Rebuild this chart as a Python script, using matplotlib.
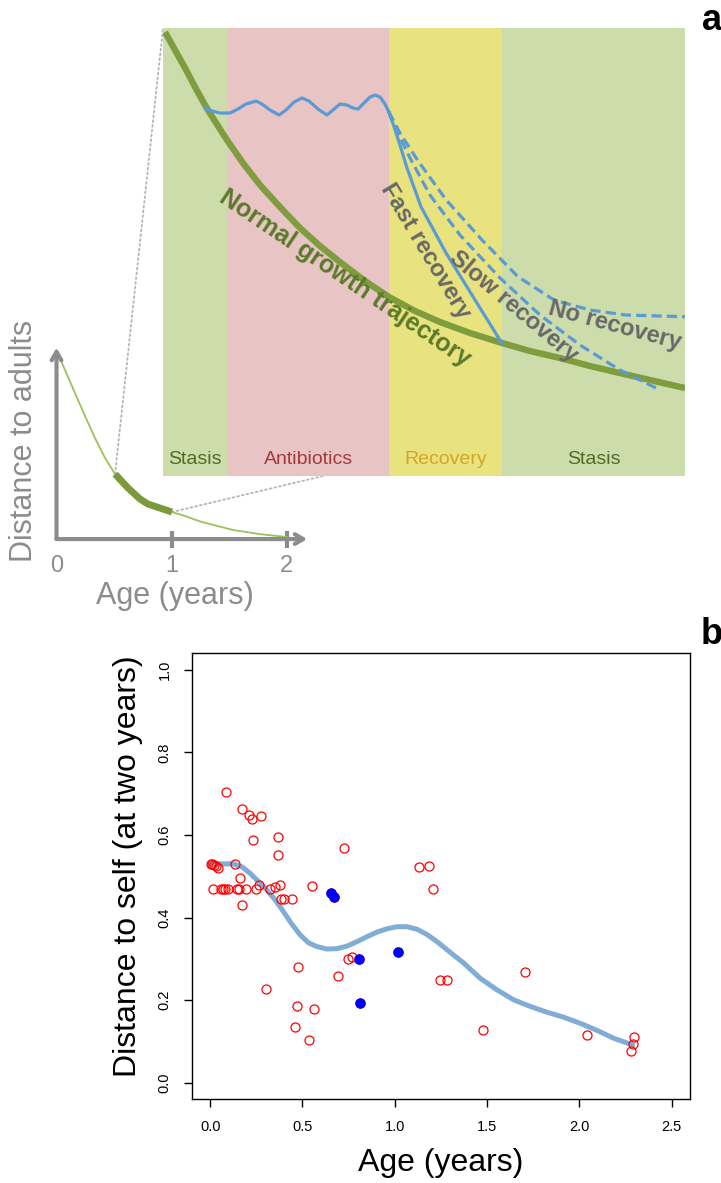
import matplotlib.pyplot as plt
from matplotlib.patches import ConnectionPatch

plt.rcParams['font.family'] = ['Liberation Sans', 'DejaVu Sans']

# ---------------- panel a : overview curve (age in years, distance to adults)
overview_age = [0.0, 0.074, 0.161, 0.248, 0.335, 0.422, 0.509, 0.622, 0.726, 0.796, 0.9, 1.004,
                1.117, 1.248, 1.535, 1.77, 2.0]
overview_dist = [1.0, 0.894, 0.772, 0.651, 0.534, 0.429, 0.344, 0.270, 0.212, 0.185, 0.164, 0.143,
                 0.122, 0.093, 0.048, 0.026, 0.011]
zoom_from, zoom_to = 6, 12          # piece of the curve blown up in the inset
overview_ticks = [0, 1, 2]

# ---------------- panel a : inset schematic (x = age, y = distance)
phase_names = ['Stasis', 'Antibiotics', 'Recovery', 'Stasis']
phase_start = [0.5, 0.5613, 0.7165, 0.8247]
phase_end = [0.5613, 0.7165, 0.8247, 1.0]
phase_fill = ['#cddcab', '#e9c4c4', '#e8e37e', '#cddcab']
phase_text = ['#4f6b28', '#a53a3c', '#d6a526', '#4f6b28']

normal_x = [0.5019, 0.5115, 0.5211, 0.5307, 0.5402, 0.5508, 0.5613, 0.5766, 0.5929, 0.6121, 0.6312,
            0.6504, 0.6695, 0.6935, 0.7165, 0.7414, 0.7653, 0.7941, 0.8247, 0.8515, 0.8803, 0.9090,
            0.9377, 0.9665, 1.0]
normal_y = [0.9911, 0.9509, 0.9107, 0.8683, 0.8281, 0.7879, 0.7500, 0.6987, 0.6496, 0.6004, 0.5536,
            0.5134, 0.4777, 0.4353, 0.3996, 0.3683, 0.3438, 0.3192, 0.2969, 0.2790, 0.2634, 0.2455,
            0.2299, 0.2143, 0.1964]

wave_x = [0.5402, 0.5469, 0.5546, 0.5642, 0.5718, 0.5795, 0.5891, 0.5948, 0.6025, 0.6111, 0.6178,
          0.6255, 0.6331, 0.6398, 0.6485, 0.6571, 0.6628, 0.6695, 0.6762, 0.6820, 0.6868, 0.6925,
          0.6983, 0.7031, 0.7079, 0.7126, 0.7162]
wave_y = [0.8214, 0.8147, 0.8103, 0.8103, 0.8192, 0.8304, 0.8371, 0.8304, 0.8170, 0.8058, 0.8170,
          0.8348, 0.8438, 0.8371, 0.8192, 0.8058, 0.8170, 0.8304, 0.8281, 0.8214, 0.8192, 0.8326,
          0.8460, 0.8504, 0.8460, 0.8304, 0.8132]

fast_x = [0.7162, 0.7213, 0.7270, 0.7333, 0.7471, 0.7713, 0.7989, 0.8247]
fast_y = [0.8132, 0.7797, 0.7388, 0.6904, 0.6011, 0.4971, 0.3929, 0.2962]

slow_x = [0.7162, 0.7270, 0.7366, 0.7557, 0.7845, 0.8228, 0.8611, 0.8994, 0.9377, 0.9761]
slow_y = [0.8132, 0.7567, 0.7098, 0.6272, 0.5379, 0.4420, 0.3594, 0.2924, 0.2366, 0.1920]

norec_x = [0.7162, 0.7270, 0.7437, 0.7713, 0.8056, 0.8400, 0.8745, 0.9090, 0.9433, 1.0]
norec_y = [0.8132, 0.7656, 0.7054, 0.6161, 0.5268, 0.4449, 0.3929, 0.3705, 0.3594, 0.3556]

# ---------------- panel b : distance to self at two years
age_red = [0.004, 0.012, 0.023, 0.033, 0.045, 0.132, 0.159,
           0.018, 0.058, 0.070, 0.082, 0.094, 0.148, 0.157, 0.192, 0.251,
           0.175, 0.267, 0.322, 0.353, 0.381, 0.385, 0.398, 0.441, 0.553,
           0.085, 0.174, 0.211, 0.229, 0.275, 0.233, 0.367, 0.365, 0.727,
           0.476, 0.305, 0.472, 0.564, 0.459, 0.535, 0.690, 0.747, 0.768,
           1.131, 1.184, 1.209, 1.244, 1.283, 1.479, 1.708, 2.043, 2.298, 2.290, 2.278]
dist_red = [0.530, 0.530, 0.528, 0.526, 0.521, 0.530, 0.496,
            0.469, 0.469, 0.469, 0.469, 0.469, 0.469, 0.469, 0.469, 0.469,
            0.430, 0.480, 0.469, 0.475, 0.480, 0.446, 0.446, 0.446, 0.477,
            0.705, 0.664, 0.648, 0.638, 0.645, 0.589, 0.596, 0.552, 0.569,
            0.281, 0.227, 0.187, 0.180, 0.135, 0.104, 0.258, 0.300, 0.304,
            0.523, 0.525, 0.469, 0.248, 0.248, 0.128, 0.268, 0.116, 0.111, 0.094, 0.077]
age_blue = [0.656, 0.669, 0.804, 0.813, 1.016]
dist_blue = [0.460, 0.451, 0.300, 0.194, 0.316]

fit_age = [0.0, 0.126, 0.172, 0.217, 0.262, 0.307, 0.352, 0.398, 0.443, 0.488, 0.533, 0.578,
           0.633, 0.687, 0.741, 0.796, 0.850, 0.904, 0.958, 1.012, 1.067, 1.121, 1.175, 1.229,
           1.284, 1.374, 1.464, 1.555, 1.645, 1.735, 1.826, 1.916, 2.007, 2.097, 2.187, 2.290]
fit_dist = [0.530, 0.530, 0.523, 0.507, 0.487, 0.467, 0.443, 0.414, 0.384, 0.358, 0.339, 0.330,
            0.324, 0.325, 0.331, 0.342, 0.354, 0.365, 0.373, 0.378, 0.378, 0.372, 0.359, 0.342,
            0.322, 0.290, 0.253, 0.225, 0.201, 0.185, 0.171, 0.159, 0.144, 0.127, 0.108, 0.092]

xticks_b = [0.0, 0.5, 1.0, 1.5, 2.0, 2.5]
yticks_b = [0.0, 0.2, 0.4, 0.6, 0.8, 1.0]

fig = plt.figure(figsize=(7.21, 11.83), dpi=100)

# ---- overview (small plot, bottom left of panel a)
gray = '#8c8c8c'
ax_ov = fig.add_axes([0.0555, 0.5266, 0.3883, 0.1944])
ax_ov.set_xlim(-0.1435, 2.291)
ax_ov.set_ylim(-0.111, 1.106)
ax_ov.axis('off')
ax_ov.set_zorder(0)
ax_ov.annotate('', xy=(2.18, 0), xytext=(0, 0),
               arrowprops=dict(arrowstyle='->,head_length=0.6,head_width=0.35', color=gray, lw=3,
                               shrinkA=0, shrinkB=0))
ax_ov.annotate('', xy=(0, 1.012), xytext=(0, 0),
               arrowprops=dict(arrowstyle='->,head_length=0.6,head_width=0.35', color=gray, lw=3,
                               shrinkA=0, shrinkB=0))
for t in overview_ticks:
    if t > 0:
        ax_ov.plot([t, t], [-0.045, 0.045], color=gray, lw=3, solid_capstyle='butt')
    ax_ov.text(t, -0.143, str(t), ha='center', va='center', fontsize=17, color=gray, clip_on=False)
ax_ov.plot(overview_age, overview_dist, color='#9dc15b', lw=1.3)
ax_ov.plot(overview_age[zoom_from:zoom_to], overview_dist[zoom_from:zoom_to], color='#7c9a3c', lw=5,
           solid_capstyle='butt')
ax_ov.text(1.03, -0.302, 'Age (years)', ha='center', va='center', fontsize=22, color=gray, clip_on=False)
ax_ov.text(-0.28, 0.519, 'Distance to adults', ha='center', va='center', rotation=90, fontsize=22,
           color=gray, clip_on=False)

# ---- inset schematic
ax_in = fig.add_axes([0.2261, 0.5976, 0.7240, 0.3787])
ax_in.set_zorder(1)
ax_in.set_xlim(0.5, 1.0)
ax_in.set_ylim(0, 1)
ax_in.axis('off')
for name, s, e, fc, tc in zip(phase_names, phase_start, phase_end, phase_fill, phase_text):
    ax_in.axvspan(s, e, color=fc, lw=0)
    ax_in.text((s + e) / 2, 0.038, name, ha='center', va='center', fontsize=14, color=tc)

blue = '#5b9bd5'
ax_in.plot(normal_x, normal_y, color='#7f9c3f', lw=4.6, solid_capstyle='butt')
ax_in.plot(wave_x, wave_y, color=blue, lw=2.3)
ax_in.plot(fast_x, fast_y, color=blue, lw=2.3)
ax_in.plot(slow_x, slow_y, color=blue, lw=2.3, dashes=(3.2, 1.6))
ax_in.plot(norec_x, norec_y, color=blue, lw=2.3, dashes=(3.2, 1.6))

ax_in.text(0.6743, 0.442, 'Normal growth trajectory', rotation=-34, rotation_mode='anchor',
           ha='center', va='center', fontsize=18, fontweight='bold', color='#5b7a2a')
lab = '#686868'
ax_in.text(0.7514, 0.5022, 'Fast recovery', rotation=-59, rotation_mode='anchor',
           ha='center', va='center', fontsize=17, fontweight='bold', color=lab)
ax_in.text(0.8362, 0.3772, 'Slow recovery', rotation=-40, rotation_mode='anchor',
           ha='center', va='center', fontsize=17, fontweight='bold', color=lab)
ax_in.text(0.933, 0.337, 'No recovery', rotation=-15, rotation_mode='anchor',
           ha='center', va='center', fontsize=17, fontweight='bold', color=lab)

# dotted zoom lines from the overview to the inset
for i, corner in [(zoom_from, (0.0, 1.0)), (zoom_to - 1, (0.3065, 0.0))]:
    cp = ConnectionPatch(xyA=(overview_age[i], overview_dist[i]), coordsA=ax_ov.transData,
                         xyB=corner, coordsB=ax_in.transAxes, ls=':', color='#b5b5b5', lw=1.3, zorder=-1)
    fig.add_artist(cp)

fig.text(712 / 721, 1 - 20 / 1183, 'a', ha='center', va='center', fontsize=26, fontweight='bold')

# ---- panel b
ax = fig.add_axes([0.2659, 0.0706, 0.6911, 0.3773])
ax.set_xlim(-0.1, 2.6)
ax.set_ylim(-0.04, 1.04)
ax.plot(fit_age, fit_dist, color='#80acd6', lw=3.6, zorder=2, solid_capstyle='round',
        solid_joinstyle='round')
ax.plot(age_red + age_blue, dist_red + dist_blue, 'o', mfc='none', mec='red', ms=6.5, mew=0.9, zorder=3)
ax.plot(age_blue, dist_blue, 'o', color='blue', ms=6.5, zorder=4)
ax.set_xticks(xticks_b)
ax.set_xticklabels(['%.1f' % v for v in xticks_b])
ax.set_yticks(yticks_b)
ax.set_yticklabels(['%.1f' % v for v in yticks_b], rotation=90, va='center')
ax.tick_params(length=6, width=1, pad=8.5, labelsize=10.5)
for sp in ax.spines.values():
    sp.set_linewidth(1)
ax.text(0.5003, -0.1423, 'Age (years)', transform=ax.transAxes, ha='center', va='center', fontsize=23)
ax.text(-0.1278, 0.523, 'Distance to self (at two years)', transform=ax.transAxes, rotation=90,
        ha='center', va='center', fontsize=23)

fig.text(712 / 721, 1 - 634 / 1183, 'b', ha='center', va='center', fontsize=26, fontweight='bold')

fig.savefig('out.png', dpi=100)
